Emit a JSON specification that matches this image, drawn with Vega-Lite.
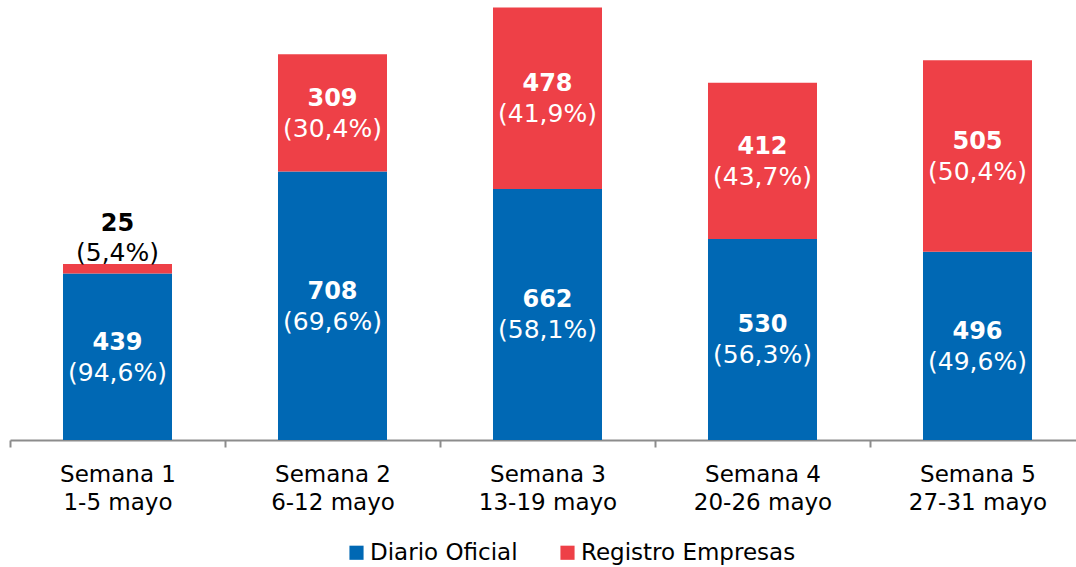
{
  "$schema": "https://vega.github.io/schema/vega-lite/v6.json",
  "autosize": {"type": "none"},
  "width": 1075,
  "height": 440,
  "padding": {"left": 10, "top": 0, "right": 0, "bottom": 127},
  "background": "white",
  "config": {
    "font": "DejaVu Sans",
    "view": {"stroke": null},
    "text": {"font": "DejaVu Sans"}
  },
  "data": {
    "values": [
      {"week": "Semana 1|1-5 mayo", "serie": "Diario Oficial", "value": 439, "pct": "(94,6%)"},
      {"week": "Semana 1|1-5 mayo", "serie": "Registro Empresas", "value": 25, "pct": "(5,4%)"},
      {"week": "Semana 2|6-12 mayo", "serie": "Diario Oficial", "value": 708, "pct": "(69,6%)"},
      {"week": "Semana 2|6-12 mayo", "serie": "Registro Empresas", "value": 309, "pct": "(30,4%)"},
      {"week": "Semana 3|13-19 mayo", "serie": "Diario Oficial", "value": 662, "pct": "(58,1%)"},
      {"week": "Semana 3|13-19 mayo", "serie": "Registro Empresas", "value": 478, "pct": "(41,9%)"},
      {"week": "Semana 4|20-26 mayo", "serie": "Diario Oficial", "value": 530, "pct": "(56,3%)"},
      {"week": "Semana 4|20-26 mayo", "serie": "Registro Empresas", "value": 412, "pct": "(43,7%)"},
      {"week": "Semana 5|27-31 mayo", "serie": "Diario Oficial", "value": 496, "pct": "(49,6%)"},
      {"week": "Semana 5|27-31 mayo", "serie": "Registro Empresas", "value": 505, "pct": "(50,4%)"}
    ]
  },
  "transform": [
    {"stack": "value", "groupby": ["week"], "sort": [{"field": "serie", "order": "ascending"}], "as": ["v0", "v1"]},
    {"calculate": "(datum.v0 + datum.v1) / 2", "as": "mid"}
  ],
  "encoding": {
    "x": {
      "field": "week",
      "type": "nominal",
      "sort": null,
      "title": null,
      "scale": {"paddingInner": 0, "paddingOuter": 0},
      "axis": {
        "labelExpr": "split(datum.label, '|')",
        "labelAngle": 0,
        "labelFontSize": 23,
        "labelColor": "#000000",
        "labelLineHeight": 28,
        "labelPadding": 16,
        "tickBand": "extent",
        "tickSize": 7,
        "tickColor": "#8c8c8c",
        "tickWidth": 2,
        "domainColor": "#8c8c8c",
        "domainWidth": 2
      }
    }
  },
  "layer": [
    {
      "mark": {"type": "bar", "width": {"band": 0.507}},
      "encoding": {
        "y": {"field": "v0", "type": "quantitative", "axis": null, "scale": {"domain": [0, 1160], "nice": false}},
        "y2": {"field": "v1"},
        "color": {
          "field": "serie",
          "type": "nominal",
          "scale": {"domain": ["Diario Oficial", "Registro Empresas"], "range": ["#0068b4", "#ee4047"]},
          "legend": {
            "title": null,
            "orient": "none",
            "direction": "horizontal",
            "legendX": 335,
            "legendY": 541,
            "symbolType": "square",
            "symbolSize": 200,
            "symbolStrokeWidth": 0,
            "labelFontSize": 23,
            "labelColor": "#000000",
            "labelOffset": 2,
            "labelLimit": 400,
            "columnPadding": 38
          }
        }
      }
    },
    {
      "transform": [{"filter": "datum.value >= 50"}],
      "mark": {"type": "text", "fontSize": 24, "fontWeight": "bold", "color": "white", "dy": -14, "baseline": "middle"},
      "encoding": {
        "y": {"field": "mid", "type": "quantitative"},
        "text": {"field": "value", "type": "quantitative"}
      }
    },
    {
      "transform": [{"filter": "datum.value >= 50"}],
      "mark": {"type": "text", "fontSize": 25, "color": "white", "dy": 16, "baseline": "middle"},
      "encoding": {
        "y": {"field": "mid", "type": "quantitative"},
        "text": {"field": "pct", "type": "nominal"}
      }
    },
    {
      "transform": [{"filter": "datum.value < 50"}],
      "mark": {"type": "text", "fontSize": 24, "fontWeight": "bold", "color": "black", "dy": -40, "baseline": "middle"},
      "encoding": {
        "y": {"field": "v1", "type": "quantitative"},
        "text": {"field": "value", "type": "quantitative"}
      }
    },
    {
      "transform": [{"filter": "datum.value < 50"}],
      "mark": {"type": "text", "fontSize": 25, "color": "black", "dy": -11, "baseline": "middle"},
      "encoding": {
        "y": {"field": "v1", "type": "quantitative"},
        "text": {"field": "pct", "type": "nominal"}
      }
    }
  ]
}
